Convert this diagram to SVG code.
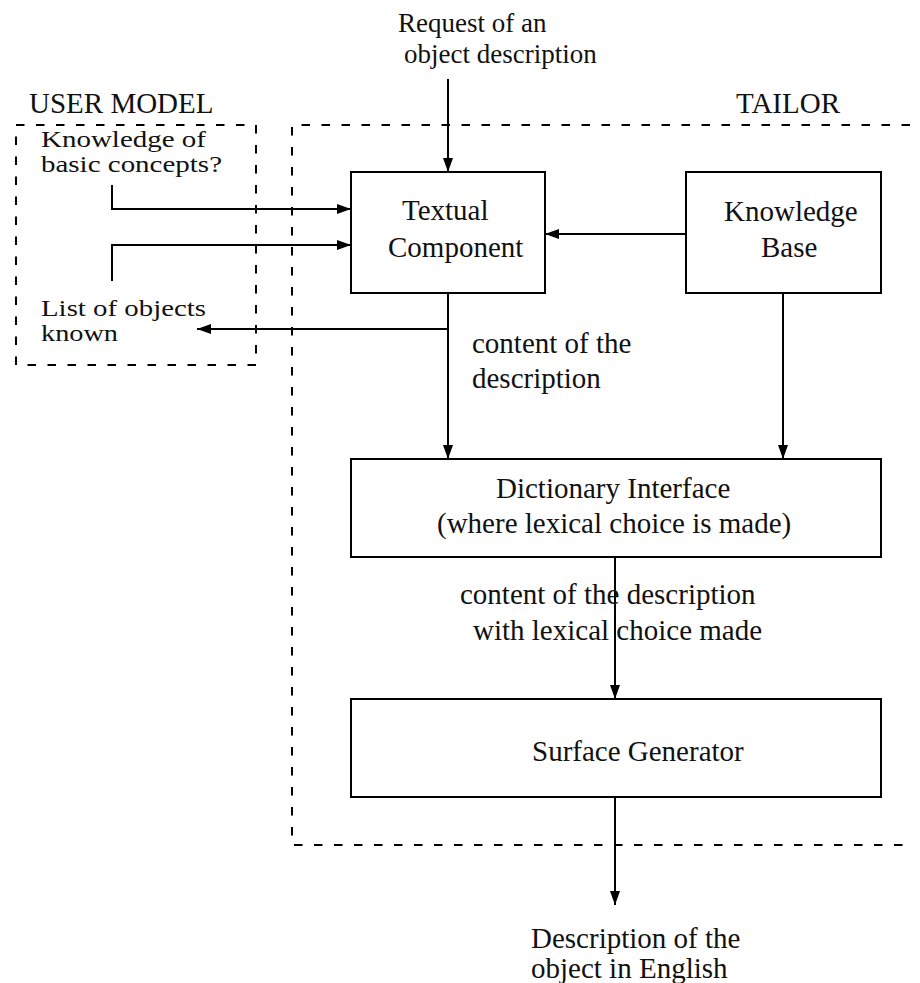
<svg xmlns="http://www.w3.org/2000/svg" width="920" height="983" viewBox="0 0 920 983">
  <style>
    text { font-family: "Liberation Serif", "Times New Roman", serif; font-size: 29px; fill: #111; }
    .small { font-size: 27px; }
    .note { font-size: 22.5px; }
    .box { fill: #fff; stroke: #000; stroke-width: 2; }
    .region { fill: none; stroke: #000; stroke-width: 2; stroke-dasharray: 8.5 11.5; }
    .conn { fill: none; stroke: #000; stroke-width: 2; marker-end: url(#arrow); }
  </style>
  <defs>
    <marker id="arrow" markerUnits="userSpaceOnUse" markerWidth="14" markerHeight="10" refX="14" refY="5" orient="auto">
      <path d="M0,0 L14,5 L0,10 Z" fill="#000"/>
    </marker>
  </defs>

  <rect width="920" height="983" fill="#fff"/>

  <!-- Dashed regions -->
  <g id="user-model">
    <rect class="region" x="16" y="125" width="240" height="240"/>
    <text x="29" y="113">USER MODEL</text>
    <text class="note" x="41" y="147" textLength="165" lengthAdjust="spacingAndGlyphs">Knowledge of</text>
    <text class="note" x="41" y="172" textLength="181" lengthAdjust="spacingAndGlyphs">basic concepts?</text>
    <text class="note" x="41" y="316" textLength="165" lengthAdjust="spacingAndGlyphs">List of objects</text>
    <text class="note" x="41" y="341" textLength="77" lengthAdjust="spacingAndGlyphs">known</text>
  </g>
  <g id="tailor">
    <path class="region" d="M910,125 H292 V845 H910"/>
    <text x="736" y="113">TAILOR</text>
  </g>

  <!-- Connectors -->
  <g id="connectors">
    <path class="conn" d="M448,79 V172"/>
    <path class="conn" d="M112,185 V209 H351"/>
    <path class="conn" d="M112,281 V245 H351"/>
    <path class="conn" d="M448,293 V459"/>
    <path class="conn" d="M448,329 H197"/>
    <path class="conn" d="M686,234 H545"/>
    <path class="conn" d="M783,293 V459"/>
    <path class="conn" d="M615,557 V699"/>
    <path class="conn" d="M615,797 V905"/>
  </g>

  <!-- Nodes -->
  <g id="textual-component">
    <rect class="box" x="351" y="172" width="194" height="121"/>
    <text x="402" y="220">Textual</text>
    <text x="388" y="257">Component</text>
  </g>
  <g id="knowledge-base">
    <rect class="box" x="686" y="172" width="195" height="121"/>
    <text x="724" y="221">Knowledge</text>
    <text x="761" y="257">Base</text>
  </g>
  <g id="dictionary-interface">
    <rect class="box" x="351" y="459" width="530" height="98"/>
    <text x="496" y="498">Dictionary Interface</text>
    <text x="437" y="533">(where lexical choice is made)</text>
  </g>
  <g id="surface-generator">
    <rect class="box" x="351" y="699" width="530" height="98"/>
    <text x="532" y="761">Surface Generator</text>
  </g>

  <!-- Connector labels and external texts -->
  <g id="labels">
    <text class="small" x="398" y="32">Request of an</text>
    <text class="small" x="404" y="63">object description</text>
    <text x="472" y="353">content of the</text>
    <text x="472" y="388">description</text>
    <text x="460" y="604">content of the description</text>
    <text x="473" y="640">with lexical choice made</text>
    <text x="531" y="948">Description of the</text>
    <text x="531" y="978">object in English</text>
  </g>
</svg>
